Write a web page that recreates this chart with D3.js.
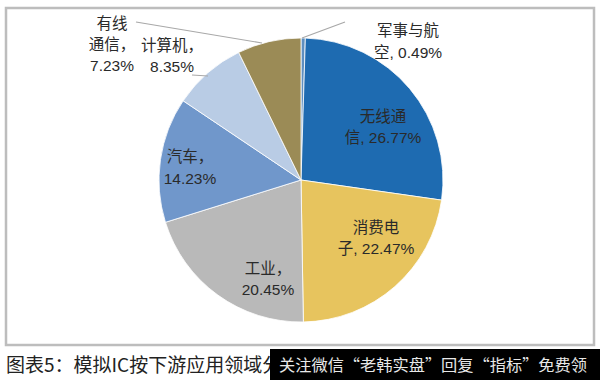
<!DOCTYPE html>
<html><head><meta charset="utf-8">
<script src="https://cdn.jsdelivr.net/npm/d3@7"></script>
<style>
html,body{margin:0;padding:0;background:#fff;}
svg{display:block;}
</style></head>
<body>
<svg id="c" width="600" height="380"></svg>
<script>
// Data (clockwise from 12 o'clock)
const categories = ["军事与航空", "无线通信", "消费电子", "工业", "汽车", "计算机", "有线通信"];
const values = [0.49, 26.77, 22.47, 20.45, 14.23, 8.35, 7.23];
const labelLines = [["军事与航", "空, 0.49%"], ["无线通", "信, 26.77%"], ["消费电", "子, 22.47%"], ["工业，", "20.45%"], ["汽车，", "14.23%"], ["计算机，", "8.35%"], ["有线", "通信，", "7.23%"]];
const colors = ["#5f8fc0", "#1e6bb1", "#e7c45e", "#b9b9b9", "#7097cb", "#b9cce5", "#9b8b56"];
const captionText = "图表5：模拟IC按下游应用领域分类";
const bannerText = "关注微信“老韩实盘”回复“指标”免费领";

// Layout (not data)
const cx = 301, cy = 180, R = 142;
const labelPlace = [
  {x: 408, y: 32, lh: 22, anchor: "middle", line: [[345, 22], [302, 38]]},
  {x: 383, y: 118, lh: 21, anchor: "middle"},
  {x: 376, y: 229, lh: 21, anchor: "middle"},
  {x: 268, y: 270, lh: 21, anchor: "middle"},
  {x: 190, y: 158, lh: 22, anchor: "middle"},
  {x: 172, y: 47, lh: 21, anchor: "middle", line: [[192, 75], [208, 76]]},
  {x: 112, y: 25, lh: 21, anchor: "middle", line: [[136, 22], [262, 43]]}
];

const svg = d3.select("#c");

// frame
svg.append("rect").attr("x", 6).attr("y", 8).attr("width", 588).attr("height", 337)
  .attr("fill", "#fff").attr("stroke", "#bdbdbd").attr("stroke-width", 2.5);

const pie = d3.pie().sort(null).value(d => d)(values);
const arc = d3.arc().innerRadius(0).outerRadius(R);

const g = svg.append("g").attr("transform", `translate(${cx},${cy})`);
g.selectAll("path").data(pie).join("path")
  .attr("d", arc)
  .attr("fill", (d, i) => colors[i])
  .attr("stroke", "#fff").attr("stroke-width", 0.8);

// leader lines
labelPlace.forEach(p => {
  if (p.line) {
    svg.append("line").attr("x1", p.line[0][0]).attr("y1", p.line[0][1])
      .attr("x2", p.line[1][0]).attr("y2", p.line[1][1])
      .attr("stroke", "#a8a8a8").attr("stroke-width", 1.2);
  }
});

// labels
labelLines.forEach((lines, i) => {
  const p = labelPlace[i];
  const t = svg.append("text").attr("text-anchor", p.anchor)
    .attr("font-family", "'Liberation Sans', Arial, 'Noto Sans CJK SC', sans-serif")
    .attr("font-size", 15.5).attr("fill", "#2a2a2a");
  lines.forEach((ln, k) => {
    t.append("tspan").attr("x", p.x).attr("y", p.y + k * p.lh)
      .attr("dominant-baseline", "middle").text(ln);
  });
});

// caption
svg.append("text").attr("x", 6).attr("y", 372)
  .attr("font-family", "'Noto Sans CJK SC', sans-serif").attr("font-size", 19)
  .attr("fill", "#222").text(captionText);

// banner overlay
svg.append("rect").attr("x", 270).attr("y", 349).attr("width", 330).attr("height", 31).attr("fill", "#000");
svg.append("text").attr("x", 279).attr("y", 371)
  .attr("font-family", "'Noto Sans CJK SC', sans-serif").attr("font-size", 16)
  .attr("textLength", 308).attr("lengthAdjust", "spacingAndGlyphs")
  .attr("fill", "#e8e8e8").text(bannerText);
</script>
</body></html>
